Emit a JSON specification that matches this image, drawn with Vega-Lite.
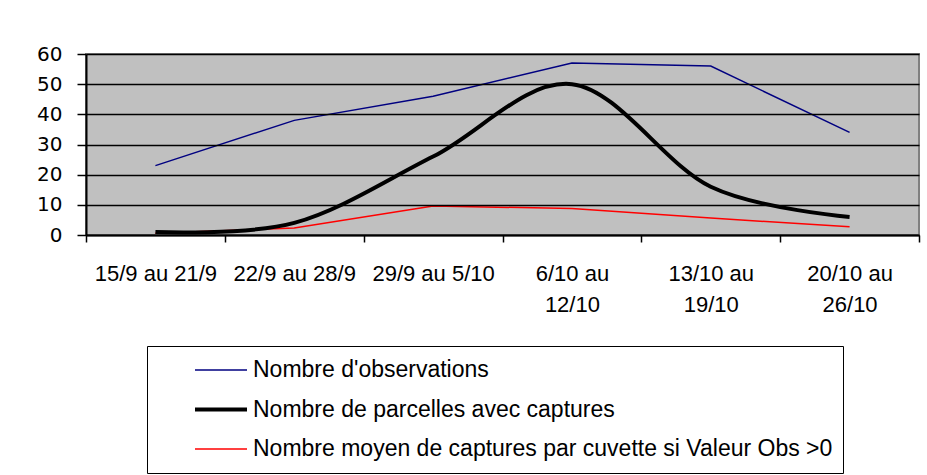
{
  "$schema": "https://vega.github.io/schema/vega-lite/v6.json",
  "width": 833,
  "height": 181,
  "autosize": {"type": "none"},
  "padding": {"left": 86, "top": 54, "right": 8, "bottom": 240},
  "background": "white",
  "config": {
    "font": "Liberation Sans",
    "view": {"fill": "#C0C0C0", "stroke": "#808080", "strokeWidth": 2}
  },
  "data": {
    "values": [
      {"period": "15/9 au 21/9", "series": "Nombre d'observations", "value": 23},
      {"period": "22/9 au 28/9", "series": "Nombre d'observations", "value": 38},
      {"period": "29/9 au 5/10", "series": "Nombre d'observations", "value": 46},
      {"period": "6/10 au 12/10", "series": "Nombre d'observations", "value": 57},
      {"period": "13/10 au 19/10", "series": "Nombre d'observations", "value": 56},
      {"period": "20/10 au 26/10", "series": "Nombre d'observations", "value": 34},
      {"period": "15/9 au 21/9", "series": "Nombre de parcelles avec captures", "value": 1},
      {"period": "22/9 au 28/9", "series": "Nombre de parcelles avec captures", "value": 4},
      {"period": "29/9 au 5/10", "series": "Nombre de parcelles avec captures", "value": 26},
      {"period": "6/10 au 12/10", "series": "Nombre de parcelles avec captures", "value": 50},
      {"period": "13/10 au 19/10", "series": "Nombre de parcelles avec captures", "value": 16},
      {"period": "20/10 au 26/10", "series": "Nombre de parcelles avec captures", "value": 6},
      {"period": "15/9 au 21/9", "series": "Nombre moyen de captures par cuvette si Valeur Obs >0", "value": 0.6},
      {"period": "22/9 au 28/9", "series": "Nombre moyen de captures par cuvette si Valeur Obs >0", "value": 2.3},
      {"period": "29/9 au 5/10", "series": "Nombre moyen de captures par cuvette si Valeur Obs >0", "value": 9.6},
      {"period": "6/10 au 12/10", "series": "Nombre moyen de captures par cuvette si Valeur Obs >0", "value": 8.8},
      {"period": "13/10 au 19/10", "series": "Nombre moyen de captures par cuvette si Valeur Obs >0", "value": 5.6},
      {"period": "20/10 au 26/10", "series": "Nombre moyen de captures par cuvette si Valeur Obs >0", "value": 2.7}
    ]
  },
  "encoding": {
    "x": {
      "field": "period",
      "type": "nominal",
      "sort": null,
      "bandPosition": 0.5,
      "scale": {"type": "band", "paddingInner": 0, "paddingOuter": 0},
      "axis": {
        "title": null,
        "labelAngle": 0,
        "tickBand": "extent",
        "tickSize": 7,
        "tickColor": "black",
        "tickWidth": 1.5,
        "domainColor": "black",
        "domainWidth": 2,
        "labelFontSize": 22,
        "labelColor": "black",
        "labelPadding": 21,
        "labelBaseline": "top",
        "labelLineHeight": 31,
        "labelLimit": 200,
        "labelExpr": "length(datum.label) > 12 ? split(replace(datum.label, ' au ', ' au|'), '|') : datum.label",
        "zindex": 1
      }
    },
    "y": {
      "field": "value",
      "type": "quantitative",
      "scale": {"domain": [0, 60], "nice": false},
      "axis": {
        "title": null,
        "values": [0, 10, 20, 30, 40, 50, 60],
        "grid": true,
        "gridColor": "black",
        "gridWidth": 1.5,
        "gridOpacity": 1,
        "tickSize": 9,
        "tickColor": "black",
        "tickWidth": 1.5,
        "domainColor": "black",
        "domainWidth": 2,
        "labelFont": "DejaVu Sans",
        "labelFontSize": 20,
        "labelColor": "black",
        "labelPadding": 15,
        "zindex": 1
      }
    },
    "color": {
      "field": "series",
      "type": "nominal",
      "sort": null,
      "scale": {
        "domain": ["Nombre d'observations", "Nombre de parcelles avec captures", "Nombre moyen de captures par cuvette si Valeur Obs >0"],
        "range": ["#000080", "#000000", "#FF0000"]
      },
      "legend": {
        "title": null,
        "orient": "none",
        "legendX": 61,
        "legendY": 292,
        "direction": "vertical",
        "strokeColor": "black",
        "fillColor": "white",
        "padding": 10,
        "symbolType": "stroke",
        "symbolSize": 2704,
        "symbolOffset": 36,
        "clipHeight": 28,
        "labelOffset": 4,
        "labelFontSize": 23,
        "labelColor": "black",
        "labelLimit": 700,
        "rowPadding": 11.5
      }
    },
    "strokeWidth": {
      "field": "series",
      "type": "nominal",
      "sort": null,
      "scale": {
        "type": "ordinal",
        "domain": ["Nombre d'observations", "Nombre de parcelles avec captures", "Nombre moyen de captures par cuvette si Valeur Obs >0"],
        "range": [1.5, 4, 1.5]
      },
      "legend": null
    }
  },
  "layer": [
    {
      "transform": [{"filter": "datum.series !== 'Nombre de parcelles avec captures'"}],
      "mark": {"type": "line", "interpolate": "linear"}
    },
    {
      "transform": [{"filter": "datum.series === 'Nombre de parcelles avec captures'"}],
      "mark": {"type": "line", "interpolate": "cardinal"}
    }
  ]
}
